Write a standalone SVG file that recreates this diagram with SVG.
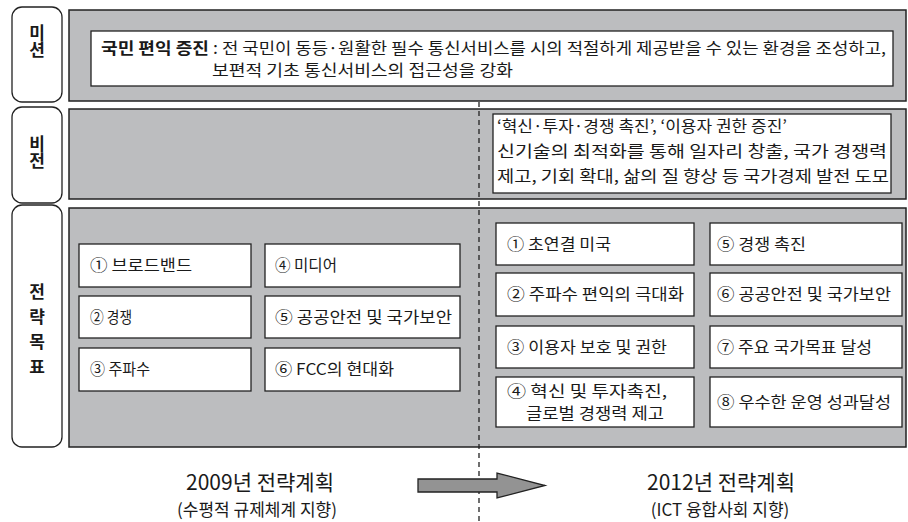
<svg xmlns="http://www.w3.org/2000/svg" width="908" height="522" viewBox="0 0 908 522">
<style>
text{font-family:"Noto Sans CJK KR","Noto Sans",sans-serif;fill:#1a1a1a}
.lbl{fill:#fff;stroke:#222;stroke-width:1.3}
.panel{fill:#bcbdbf;stroke:#222;stroke-width:1.5}
.box{fill:#fff;stroke:#222;stroke-width:1.3}
.lt{font-size:17px;font-weight:bold;text-anchor:middle;writing-mode:vertical-rl}
.t{font-size:16px}
.tt{font-size:21px;text-anchor:middle}
.st{font-size:17px;text-anchor:middle}
</style>
<rect width="908" height="522" fill="#fff"/>
<g id="label-mission"><rect class="lbl" x="12" y="7" width="50" height="95" rx="10"/><text class="lt" x="37" y="41">미션</text></g>
<g id="label-vision"><rect class="lbl" x="12" y="107" width="50" height="96" rx="10"/><text class="lt" x="37" y="152">비전</text></g>
<g id="label-goals"><rect class="lbl" x="12" y="205" width="50" height="242" rx="10"/><text class="lt" x="37" y="333" letter-spacing="8">전략목표</text></g>
<g id="panel-mission"><rect class="panel" x="69" y="10" width="837" height="91"/>
<rect class="box" x="91" y="31" width="802" height="55"/>
<text class="t" x="101" y="54" font-weight="bold" textLength="108" lengthAdjust="spacingAndGlyphs">국민 편익 증진</text>
<text class="t" x="213" y="54" textLength="673" lengthAdjust="spacingAndGlyphs">: 전 국민이 동등·원활한 필수 통신서비스를 시의 적절하게 제공받을 수 있는 환경을 조성하고,</text>
<text class="t" x="212" y="76" textLength="301" lengthAdjust="spacingAndGlyphs">보편적 기초 통신서비스의 접근성을 강화</text></g>
<g id="panel-vision"><rect class="panel" x="69" y="109" width="837" height="90"/>
<rect class="box" x="493" y="114" width="398" height="79"/>
<text class="t" x="497" y="132" textLength="290" lengthAdjust="spacingAndGlyphs">‘혁신·투자·경쟁 촉진’, ‘이용자 권한 증진’</text>
<text class="t" x="497" y="157" textLength="390" lengthAdjust="spacingAndGlyphs">신기술의 최적화를 통해 일자리 창출, 국가 경쟁력</text>
<text class="t" x="497" y="182" textLength="392" lengthAdjust="spacingAndGlyphs">제고, 기회 확대, 삶의 질 향상 등 국가경제 발전 도모</text></g>
<g id="panel-goals"><rect class="panel" x="69" y="208" width="837" height="239"/></g>
<g id="goal-2009-1"><rect class="box" x="79" y="244" width="172" height="43"/><text class="t" x="90" y="271" textLength="102" lengthAdjust="spacingAndGlyphs">① 브로드밴드</text></g>
<g id="goal-2009-2"><rect class="box" x="79" y="296" width="172" height="42"/><text class="t" x="90" y="323" textLength="42" lengthAdjust="spacingAndGlyphs">② 경쟁</text></g>
<g id="goal-2009-3"><rect class="box" x="79" y="348" width="172" height="43"/><text class="t" x="90" y="375" textLength="60" lengthAdjust="spacingAndGlyphs">③ 주파수</text></g>
<g id="goal-2009-4"><rect class="box" x="265" y="244" width="195" height="43"/><text class="t" x="275" y="271" textLength="62" lengthAdjust="spacingAndGlyphs">④ 미디어</text></g>
<g id="goal-2009-5"><rect class="box" x="265" y="296" width="195" height="42"/><text class="t" x="275" y="323" textLength="177" lengthAdjust="spacingAndGlyphs">⑤ 공공안전 및 국가보안</text></g>
<g id="goal-2009-6"><rect class="box" x="265" y="348" width="195" height="43"/><text class="t" x="275" y="375" textLength="119" lengthAdjust="spacingAndGlyphs">⑥ FCC의 현대화</text></g>
<g id="goal-2012-1"><rect class="box" x="496" y="223" width="198" height="42"/><text class="t" x="507" y="250" textLength="104" lengthAdjust="spacingAndGlyphs">① 초연결 미국</text></g>
<g id="goal-2012-2"><rect class="box" x="496" y="273" width="198" height="43"/><text class="t" x="507" y="300" textLength="177" lengthAdjust="spacingAndGlyphs">② 주파수 편익의 극대화</text></g>
<g id="goal-2012-3"><rect class="box" x="496" y="326" width="198" height="42"/><text class="t" x="507" y="353" textLength="160" lengthAdjust="spacingAndGlyphs">③ 이용자 보호 및 권한</text></g>
<g id="goal-2012-4"><rect class="box" x="496" y="377" width="198" height="50"/><text class="t" x="507" y="397" textLength="160" lengthAdjust="spacingAndGlyphs">④ 혁신 및 투자촉진,</text><text class="t" x="526" y="419" textLength="138" lengthAdjust="spacingAndGlyphs">글로벌 경쟁력 제고</text></g>
<g id="goal-2012-5"><rect class="box" x="710" y="223" width="192" height="42"/><text class="t" x="717" y="250" textLength="89" lengthAdjust="spacingAndGlyphs">⑤ 경쟁 촉진</text></g>
<g id="goal-2012-6"><rect class="box" x="710" y="273" width="192" height="43"/><text class="t" x="717" y="300" textLength="174" lengthAdjust="spacingAndGlyphs">⑥ 공공안전 및 국가보안</text></g>
<g id="goal-2012-7"><rect class="box" x="710" y="326" width="192" height="42"/><text class="t" x="717" y="353" textLength="155" lengthAdjust="spacingAndGlyphs">⑦ 주요 국가목표 달성</text></g>
<g id="goal-2012-8"><rect class="box" x="710" y="377" width="192" height="50"/><text class="t" x="717" y="408" textLength="174" lengthAdjust="spacingAndGlyphs">⑧ 우수한 운영 성과달성</text></g>
<g id="plan-2009"><text class="tt" x="260" y="490">2009년 전략계획</text><text class="st" x="257" y="516">(수평적 규제체계 지향)</text></g>
<g id="plan-2012"><text class="tt" x="721" y="490">2012년 전략계획</text><text class="st" x="720" y="516">(ICT 융합사회 지향)</text></g>
<g id="connectors">
<line x1="479" y1="102" x2="479" y2="522" stroke="#222" stroke-width="1.3" stroke-dasharray="5,4"/>
<path d="M418,479 H497 V473 L545,485.5 L497,498 V492 H418 Z" fill="#939393" stroke="#222" stroke-width="1.3"/>
</g>
</svg>
